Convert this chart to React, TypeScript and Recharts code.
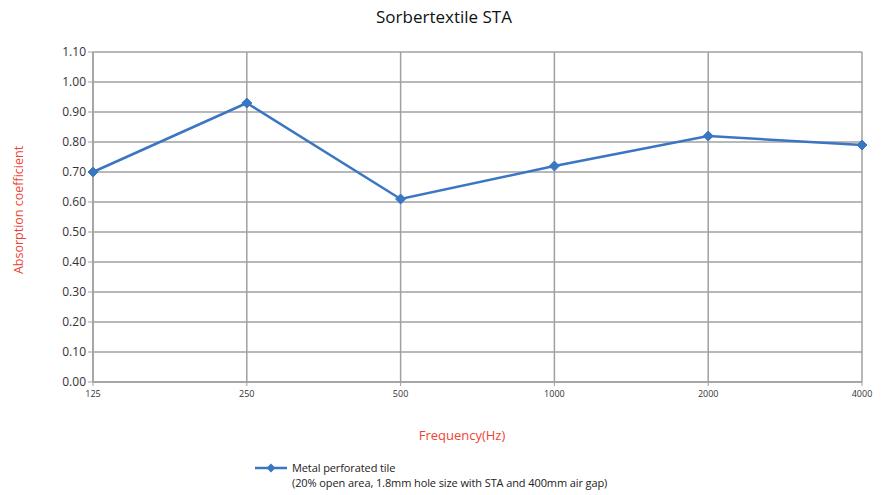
import { LineChart, Line, XAxis, YAxis, CartesianGrid, Legend } from "recharts";

document.body.style.margin = "0";

const frequencies = ["125", "250", "500", "1000", "2000", "4000"];
const absorption = [0.7, 0.93, 0.61, 0.72, 0.82, 0.79];
const yTicks = [0, 0.1, 0.2, 0.3, 0.4, 0.5, 0.6, 0.7, 0.8, 0.9, 1.0, 1.1];

const data = frequencies.map((f, i) => ({ freq: f, value: absorption[i] }));

const BLUE = "#3a76c2";
const RED = "#ee4433";
const FONT = "'Open Sans', 'Noto Sans', sans-serif";

function Diamond(props: any) {
  const { cx, cy } = props;
  if (cx == null || cy == null) return null;
  const r = 5;
  return (
    <path
      d={`M${cx},${cy - r}L${cx + r},${cy}L${cx},${cy + r}L${cx - r},${cy}Z`}
      fill={BLUE}
      stroke={BLUE}
    />
  );
}

function LegendContent() {
  return (
    <div style={{ position: "relative", height: 30, fontFamily: FONT, fontSize: 11, color: "#222" }}>
      <svg width={36} height={12} style={{ position: "absolute", left: 254, top: 1 }}>
        <line x1={1} y1={6} x2={33} y2={6} stroke={BLUE} strokeWidth={2.5} />
        <path d="M17,1.5L21.5,6L17,10.5L12.5,6Z" fill={BLUE} />
      </svg>
      <div style={{ position: "absolute", left: 292, top: -1, lineHeight: "15px", whiteSpace: "nowrap", letterSpacing: -0.1 }}>
        Metal perforated tile
        <br />
        (20% open area, 1.8mm hole size with STA and 400mm air gap)
      </div>
    </div>
  );
}

export default function App() {
  return (
    <div style={{ position: "relative", width: 888, height: 495, background: "#fff", fontFamily: FONT }}>
      <div
        style={{
          position: "absolute",
          top: 5,
          left: 0,
          width: 888,
          textAlign: "center",
          fontSize: 17,
          color: "#111",
        }}
      >
        Sorbertextile STA
      </div>
      <div
        style={{
          position: "absolute",
          top: 426,
          left: 0,
          width: 888,
          paddingLeft: 36,
          boxSizing: "border-box",
          textAlign: "center",
          fontSize: 13,
          color: RED,
        }}
      >
        Frequency(Hz)
      </div>
      <div
        style={{
          position: "absolute",
          left: 18,
          top: 210,
          transform: "translate(-50%, -50%) rotate(-90deg)",
          fontSize: 12.5,
          color: RED,
          whiteSpace: "nowrap",
        }}
      >
        Absorption coefficient
      </div>
      <LineChart
        width={888}
        height={495}
        data={data}
        margin={{ top: 52, right: 26, left: 33, bottom: 53 }}
      >
        <CartesianGrid stroke="#a0a0a0" strokeWidth={1.5} vertical horizontal />
        <XAxis
          dataKey="freq"
          scale="point"
          padding={{ left: 0, right: 0 }}
          axisLine={{ stroke: "#a0a0a0", strokeWidth: 1.5 }}
          tickLine={{ stroke: "#a0a0a0" }}
          tickSize={4}
          tick={{ fill: "#333", fontSize: 9, fontFamily: FONT, dy: 3 }}
          height={30}
          interval={0}
        />
        <YAxis
          domain={[0, 1.1]}
          ticks={yTicks}
          width={60}
          axisLine={{ stroke: "#a0a0a0", strokeWidth: 1.5 }}
          tickLine={{ stroke: "#a0a0a0" }}
          tickSize={5}
          tick={{ fill: "#333", fontSize: 12, fontFamily: FONT }}
          tickFormatter={(v: number) => v.toFixed(2)}
          interval={0}
        />
        <Legend verticalAlign="bottom" content={<LegendContent />} wrapperStyle={{ bottom: 4, left: 0, width: 888 }} />
        <Line
          type="linear"
          dataKey="value"
          name="Metal perforated tile"
          stroke={BLUE}
          strokeWidth={2.5}
          dot={<Diamond />}
          activeDot={false}
          isAnimationActive={false}
        />
      </LineChart>
    </div>
  );
}
